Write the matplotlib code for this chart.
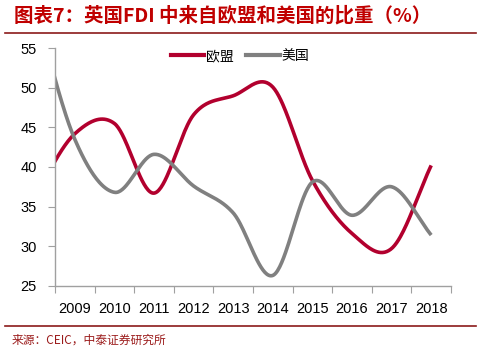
import numpy as np
import matplotlib
matplotlib.use("Agg")
import matplotlib.pyplot as plt
from matplotlib.lines import Line2D

plt.rcParams['font.family'] = ['Liberation Sans', 'Noto Sans CJK SC', 'DejaVu Sans']

years = ["2009", "2010", "2011", "2012", "2013", "2014", "2015", "2016", "2017", "2018"]
# first value (2008) lies left of the visible axis and is clipped
eu = [36.5, 44.2, 45.5, 36.7, 46.6, 49.0, 50.1, 38.3, 31.6, 29.7, 40.2]
us = [60.0, 43.5, 36.8, 41.6, 37.6, 34.2, 26.3, 38.1, 33.9, 37.5, 31.4]

RED = "#B2002E"
GRAY = "#808080"
TITLE_RED = "#C00000"


def catmull_rom(xs, ys, n=40):
    xs = np.asarray(xs, float)
    ys = np.asarray(ys, float)
    P = np.column_stack([xs, ys])
    P = np.vstack([2 * P[0] - P[1], P, 2 * P[-1] - P[-2]])
    out = []
    for i in range(1, len(P) - 2):
        p0, p1, p2, p3 = P[i - 1], P[i], P[i + 1], P[i + 2]
        t = np.linspace(0, 1, n, endpoint=False)[:, None]
        seg = 0.5 * ((2 * p1) + (-p0 + p2) * t + (2 * p0 - 5 * p1 + 4 * p2 - p3) * t ** 2
                     + (-p0 + 3 * p1 - 3 * p2 + p3) * t ** 3)
        out.append(seg)
    out.append(P[-2][None, :])
    out = np.vstack(out)
    return out[:, 0], out[:, 1]


fig = plt.figure(figsize=(4.81, 3.51), dpi=100)
ax = fig.add_axes([55 / 481, 65.3 / 351, 396 / 481, 237.4 / 351])

xpos = np.arange(-1, len(years))
for vals, col, lab in [(eu, RED, "欧盟"), (us, GRAY, "美国")]:
    sx, sy = catmull_rom(xpos, vals)
    ax.plot(sx, sy, color=col, lw=2.6, solid_capstyle='butt', label=lab, clip_on=True)

ax.set_xlim(-0.5, len(years) - 0.5)
ax.set_ylim(25, 55)
ax.set_yticks(np.arange(25, 56, 5))
ax.set_xticks(np.arange(-0.5, len(years), 1.0))
ax.set_xticklabels([])
ax.set_xticks(np.arange(len(years)), minor=True)
ax.set_xticklabels(years, minor=True)
ax.tick_params(axis='x', which='minor', length=0, pad=12, labelsize=10.5)
ax.tick_params(axis='x', which='major', length=5, color="#A0A0A0", direction='out')
ax.tick_params(axis='y', length=5, color="#A0A0A0", direction='out', pad=8, labelsize=10.5)
for s in ['top', 'right']:
    ax.spines[s].set_visible(False)
for s in ['left', 'bottom']:
    ax.spines[s].set_color("#A0A0A0")
    ax.spines[s].set_linewidth(1.0)

handles = [Line2D([], [], color=RED, lw=3), Line2D([], [], color=GRAY, lw=3)]
leg = ax.legend(handles, ["欧盟", "美国"], loc='upper center', bbox_to_anchor=(0.467, 1.05),
                ncol=2, frameon=False, handlelength=2.4, handletextpad=0.15, columnspacing=0.9,
                prop={'family': ['Noto Sans CJK SC'], 'size': 10})

fig.text(14 / 481, 1 - 16 / 351, "图表7：英国FDI 中来自欧盟和美国的比重（%）", color=TITLE_RED,
         fontsize=14, fontweight='bold', ha='left', va='center', style='italic',
         family=['Noto Sans CJK SC', 'DejaVu Sans'])
fig.add_artist(Line2D([5 / 481, 476 / 481], [1 - 32.5 / 351] * 2, color="#8B1A1A", lw=1.2))
fig.add_artist(Line2D([5 / 481, 476 / 481], [1 - 326 / 351] * 2, color="#8B1A1A", lw=1.2))
fig.text(12 / 481, 1 - 340 / 351, "来源：CEIC，中泰证券研究所", color="#9B1B1B", fontsize=8.5,
         ha='left', va='center', family=['Noto Sans CJK SC', 'DejaVu Sans'])

fig.savefig("out.png", dpi=100)
